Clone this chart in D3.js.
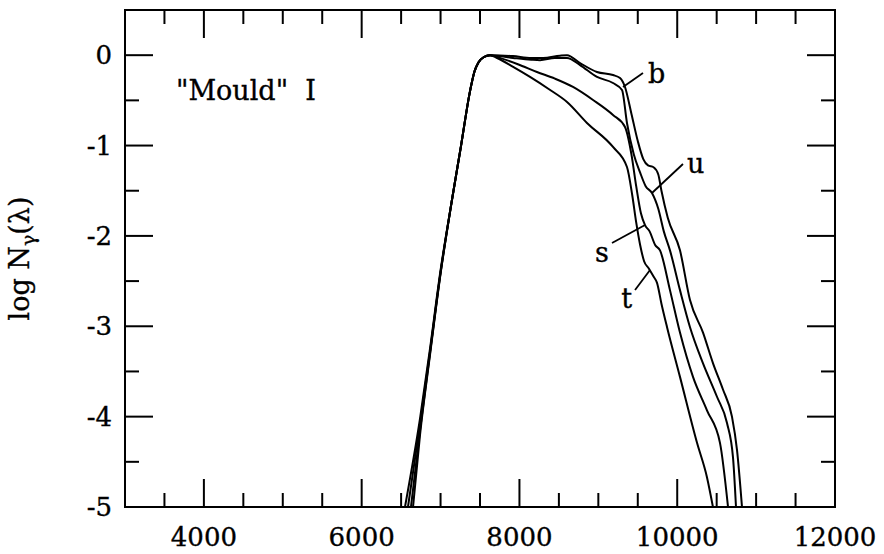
<!DOCTYPE html>
<html lang="en">
<head>
<meta charset="UTF-8">
<script src="https://d3js.org/d3.v7.min.js"></script>
<title>Mould I</title>
<style>
  body { margin: 0; background: #fff; }
  svg text { font-family: "DejaVu Serif", serif; fill: #000; stroke: #000; stroke-width: 0.35px; }
</style>
</head>
<body>
<svg id="chart" width="884" height="554"></svg>
<script>
// wavelength (A) and log N_gamma for each filter curve
const bWave = [6651, 6740, 6866, 7000, 7145, 7260, 7373, 7430, 7480, 7550, 7627, 7918, 8150, 8300, 8514, 8603, 8768, 8983, 9186, 9275, 9338, 9420, 9500, 9570, 9630, 9700, 9760, 9800, 9880, 10035, 10162, 10327, 10454, 10580, 10694, 10758, 10821];
const bLogN = [-5, -4.2, -3.32, -2.42, -1.6, -1.0, -0.4, -0.18, -0.08, -0.02, 0, -0.01, -0.03, -0.03, -0.005, 0, -0.087, -0.186, -0.22, -0.253, -0.352, -0.65, -0.95, -1.15, -1.22, -1.24, -1.32, -1.5, -1.8, -2.16, -2.71, -3.07, -3.41, -3.7, -4.0, -4.37, -5];

const uWave = [6625, 6740, 6866, 7000, 7145, 7260, 7373, 7430, 7480, 7550, 7627, 7918, 8150, 8261, 8450, 8603, 8768, 8983, 9186, 9300, 9363, 9450, 9530, 9600, 9680, 9760, 9830, 9908, 10035, 10162, 10327, 10504, 10631, 10707, 10745];
const uLogN = [-5, -4.15, -3.3, -2.41, -1.6, -1.0, -0.4, -0.18, -0.08, -0.02, 0, -0.03, -0.05, -0.055, -0.03, -0.031, -0.109, -0.241, -0.308, -0.385, -0.75, -1.1, -1.3, -1.45, -1.525, -1.7, -1.95, -2.16, -2.6, -3.01, -3.41, -3.78, -4.07, -4.45, -5];

const sWave = [6587, 6740, 6866, 7000, 7145, 7260, 7373, 7430, 7480, 7550, 7627, 7753, 7980, 8222, 8450, 8679, 8933, 9186, 9338, 9420, 9480, 9540, 9592, 9650, 9720, 9782, 9908, 10035, 10200, 10377, 10542, 10644];
const sLogN = [-5, -4.08, -3.28, -2.4, -1.6, -1.0, -0.4, -0.18, -0.08, -0.02, 0, -0.03, -0.1, -0.186, -0.26, -0.352, -0.496, -0.662, -0.795, -1.1, -1.45, -1.75, -1.88, -1.95, -2.1, -2.16, -2.6, -3.07, -3.56, -3.93, -4.29, -5];

const tWave = [6549, 6740, 6866, 7000, 7145, 7260, 7373, 7430, 7480, 7550, 7627, 7716, 7920, 8134, 8380, 8603, 8856, 9186, 9363, 9430, 9480, 9530, 9580, 9640, 9700, 9744, 9800, 9871, 10035, 10251, 10377, 10453];
const tLogN = [-5, -4.02, -3.25, -2.38, -1.6, -1.0, -0.4, -0.18, -0.08, -0.02, 0, -0.031, -0.13, -0.241, -0.38, -0.518, -0.75, -1.016, -1.237, -1.55, -1.85, -2.1, -2.28, -2.36, -2.45, -2.52, -2.75, -3.01, -3.56, -4.29, -4.67, -5];

const curveNames = ["b", "u", "s", "t"];
// leader line: point on curve -> end near label (data units)
const leaderFrom = [[9313, -0.352], [9680, -1.525], [9592, -1.879], [9655, -2.377]];
const leaderTo   = [[9566, -0.197], [10073, -1.204], [9173, -2.079], [9465, -2.599]];

const xTickLabels = [4000, 6000, 8000, 10000, 12000];
const yTickLabels = [0, -1, -2, -3, -4, -5];

const svg = d3.select("#chart");
const margin = {top: 10, right: 49, bottom: 47, left: 125};
const W = 884, H = 554;
const x = d3.scaleLinear().domain([3000, 12000]).range([margin.left, W - margin.right]);
const y = d3.scaleLinear().domain([-5, 0.5]).range([H - margin.bottom, margin.top]);

svg.append("defs").append("clipPath").attr("id", "clip")
  .append("rect")
  .attr("x", margin.left).attr("y", margin.top)
  .attr("width", W - margin.left - margin.right)
  .attr("height", H - margin.top - margin.bottom);

const series = [
  {name: "b", wave: bWave, logN: bLogN},
  {name: "u", wave: uWave, logN: uLogN},
  {name: "s", wave: sWave, logN: sLogN},
  {name: "t", wave: tWave, logN: tLogN}
];

const line = d3.line()
  .x(d => x(d[0]))
  .y(d => y(d[1]))
  .curve(d3.curveMonotoneX);

svg.append("g").attr("clip-path", "url(#clip)")
  .selectAll("path")
  .data(series)
  .join("path")
  .attr("d", d => line(d.wave.map((w, i) => [w, d.logN[i]])))
  .attr("fill", "none")
  .attr("stroke", "#000")
  .attr("stroke-width", 2)
  .attr("stroke-linejoin", "round");

// frame
const frame = svg.append("g");
frame.append("rect")
  .attr("x", x(3000)).attr("y", y(0.5))
  .attr("width", x(12000) - x(3000))
  .attr("height", y(-5) - y(0.5))
  .attr("fill", "none")
  .attr("stroke", "#000")
  .attr("stroke-width", 2);

const majLen = 28, minLen = 14;
const xMinor = d3.range(3500, 12000, 500).filter(v => v % 2000 !== 0);
const yMinor = d3.range(-4.5, 0.5, 1);

const ticks = frame.append("g").attr("stroke", "#000").attr("stroke-width", 2);
xTickLabels.forEach(v => {
  ticks.append("line").attr("x1", x(v)).attr("x2", x(v)).attr("y1", y(-5)).attr("y2", y(-5) - majLen);
  ticks.append("line").attr("x1", x(v)).attr("x2", x(v)).attr("y1", y(0.5)).attr("y2", y(0.5) + majLen);
});
xMinor.forEach(v => {
  ticks.append("line").attr("x1", x(v)).attr("x2", x(v)).attr("y1", y(-5)).attr("y2", y(-5) - minLen);
  ticks.append("line").attr("x1", x(v)).attr("x2", x(v)).attr("y1", y(0.5)).attr("y2", y(0.5) + minLen);
});
yTickLabels.forEach(v => {
  ticks.append("line").attr("x1", x(3000)).attr("x2", x(3000) + majLen).attr("y1", y(v)).attr("y2", y(v));
  ticks.append("line").attr("x1", x(12000)).attr("x2", x(12000) - majLen).attr("y1", y(v)).attr("y2", y(v));
});
yMinor.forEach(v => {
  ticks.append("line").attr("x1", x(3000)).attr("x2", x(3000) + minLen).attr("y1", y(v)).attr("y2", y(v));
  ticks.append("line").attr("x1", x(12000)).attr("x2", x(12000) - minLen).attr("y1", y(v)).attr("y2", y(v));
});

// tick labels
svg.append("g").selectAll("text")
  .data(xTickLabels)
  .join("text")
  .attr("x", d => x(d))
  .attr("y", y(-5) + 39)
  .attr("text-anchor", "middle")
  .attr("font-size", 26)
  .text(d => d);

svg.append("g").selectAll("text")
  .data(yTickLabels)
  .join("text")
  .attr("x", x(3000) - 13)
  .attr("y", d => y(d) + 9)
  .attr("text-anchor", "end")
  .attr("font-size", 26)
  .text(d => d === 0 ? "0" : "-" + Math.abs(d));

// y axis title
const yt = svg.append("text")
  .attr("transform", `translate(29,${(y(-5) + y(0.5)) / 2}) rotate(-90)`)
  .attr("text-anchor", "middle")
  .attr("font-size", 27);
yt.append("tspan").text("log N");
yt.append("tspan").attr("font-size", 19).attr("dy", 6).text("\u03b3");
yt.append("tspan").attr("dy", -6).text("(\u03bb)");

// in-plot title
svg.append("text")
  .attr("x", 176).attr("y", 100)
  .attr("font-size", 27)
  .attr("xml:space", "preserve")
  .text("\"Mould\"  I");

// curve labels with leader lines
const labelDx = [5, 4, -3, -3];
const labelDy = [10, 9, 19, 18];
const labelAnchor = ["start", "start", "end", "end"];
const ann = svg.append("g");
curveNames.forEach((n, i) => {
  ann.append("line")
    .attr("x1", x(leaderFrom[i][0])).attr("y1", y(leaderFrom[i][1]))
    .attr("x2", x(leaderTo[i][0])).attr("y2", y(leaderTo[i][1]))
    .attr("stroke", "#000").attr("stroke-width", 1.8);
  ann.append("text")
    .attr("x", x(leaderTo[i][0]) + labelDx[i])
    .attr("y", y(leaderTo[i][1]) + labelDy[i])
    .attr("text-anchor", labelAnchor[i])
    .attr("font-size", 27)
    .text(n);
});
</script>
</body>
</html>
